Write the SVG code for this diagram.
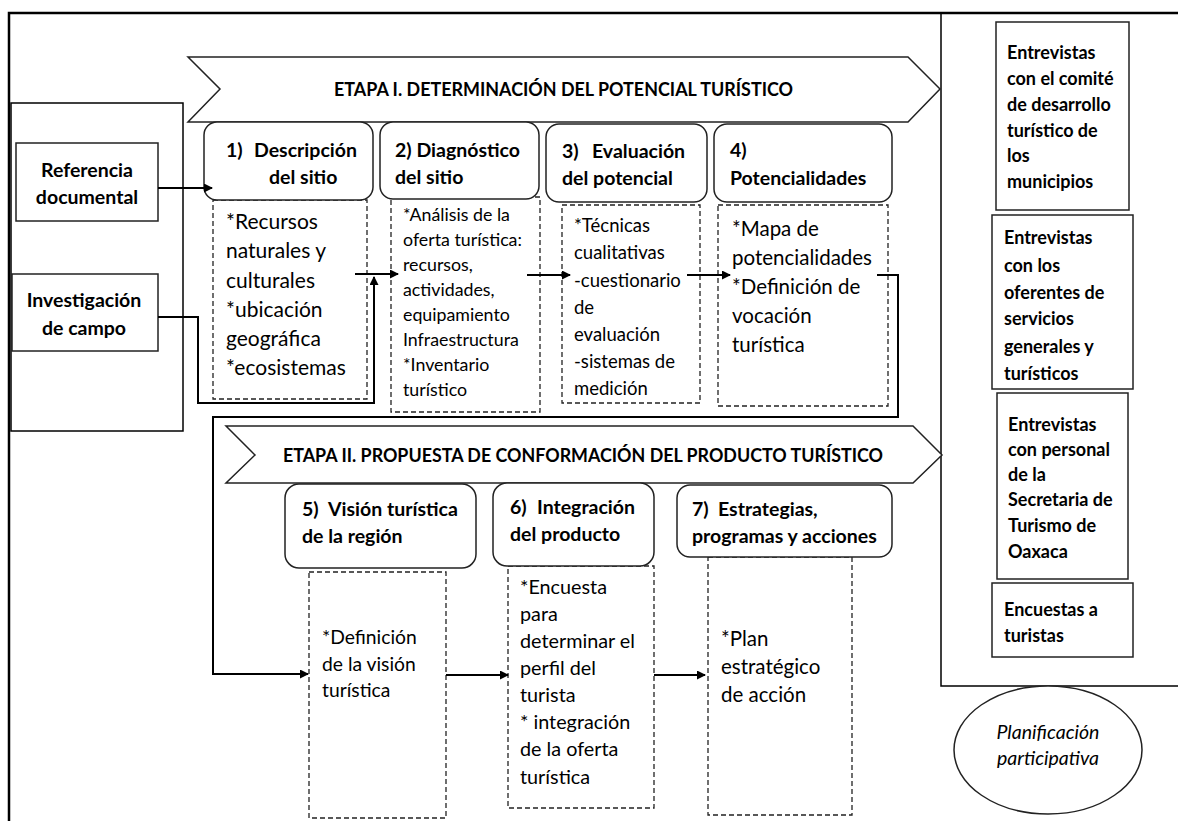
<svg xmlns="http://www.w3.org/2000/svg" width="1178" height="821" viewBox="0 0 1178 821">
<style>
  text { font-family: Lato, "Liberation Sans", sans-serif; fill: #000; }
  .hd { font-size: 19.5px; font-weight: bold; }
  .bd { font-size: 20.5px; }
  .bd2 { font-size: 17.8px; }
  .rp { font-size: 18px; font-weight: bold; }
  .bn { font-size: 18.5px; font-weight: bold; }
  .hdbox { fill: #fff; stroke: #222; stroke-width: 1.5; }
  .dash { fill: #fff; stroke: #222; stroke-width: 1.3; stroke-dasharray: 5 3; }
  .plain { fill: #fff; stroke: #222; stroke-width: 1.5; }
  .conn { fill: none; stroke: #000; stroke-width: 2; }
  .frame { fill: none; stroke: #000; }
</style>
<defs>
  <marker id="arr" markerUnits="userSpaceOnUse" markerWidth="9" markerHeight="9" refX="8" refY="4.5" orient="auto">
    <path d="M0,0 L9,4.5 L0,9 z" fill="#000"/>
  </marker>
</defs>
<rect width="1178" height="821" fill="#fff"/>

<g id="frame">
  <path class="frame" stroke-width="2.5" d="M9,821 V13 H1178"/>
  <path class="frame" stroke-width="1.5" d="M941,13 V686 H1178"/>
  <rect class="frame" stroke-width="1.5" x="11" y="103" width="172" height="328"/>
</g>

<g id="banner1">
  <polygon class="plain" points="188,57 908,57 940,89 908,122 188,122 220,89"/>
  <text class="bn" x="334" y="96" textLength="459" lengthAdjust="spacingAndGlyphs">ETAPA I. DETERMINACIÓN DEL POTENCIAL TURÍSTICO</text>
</g>
<g id="banner2">
  <polygon class="plain" points="226,426 913,426 942,455 913,483 226,483 255,455"/>
  <text class="bn" x="283" y="462" textLength="600" lengthAdjust="spacingAndGlyphs">ETAPA II. PROPUESTA DE CONFORMACIÓN DEL PRODUCTO TURÍSTICO</text>
</g>

<g id="ref-doc">
  <rect class="plain" x="16" y="143" width="142" height="78"/>
  <text class="hd" text-anchor="middle"><tspan x="87" y="177">Referencia</tspan><tspan x="87" y="204">documental</tspan></text>
</g>
<g id="inv-campo">
  <rect class="plain" x="12" y="274" width="146" height="77"/>
  <text class="hd" text-anchor="middle"><tspan x="84" y="307">Investigación</tspan><tspan x="84" y="335">de campo</tspan></text>
</g>

<g id="node1">
  <rect class="dash" x="213" y="200" width="154" height="199"/>
  <rect class="hdbox" x="204" y="122" width="169" height="78" rx="13"/>
  <text class="hd"><tspan x="226" y="157">1)</tspan><tspan x="254" y="157">Descripción</tspan><tspan x="269" y="184">del sitio</tspan></text>
  <text class="bd" style="font-size:21px"><tspan x="226" y="229">*Recursos</tspan><tspan x="226" y="258">naturales y</tspan><tspan x="226" y="288">culturales</tspan><tspan x="226" y="317">*ubicación</tspan><tspan x="226" y="346">geográfica</tspan><tspan x="226" y="375">*ecosistemas</tspan></text>
</g>
<g id="node2">
  <rect class="dash" x="391" y="197" width="149" height="215"/>
  <rect class="hdbox" x="380" y="122" width="159" height="77" rx="13"/>
  <text class="hd"><tspan x="395" y="157">2) Diagnóstico</tspan><tspan x="395" y="184">del sitio</tspan></text>
  <text class="bd2"><tspan x="403" y="221">*Análisis de la</tspan><tspan x="403" y="246">oferta turística:</tspan><tspan x="403" y="271">recursos,</tspan><tspan x="403" y="296">actividades,</tspan><tspan x="403" y="321">equipamiento</tspan><tspan x="403" y="346">Infraestructura</tspan><tspan x="403" y="371">*Inventario</tspan><tspan x="403" y="396">turístico</tspan></text>
</g>
<g id="node3">
  <rect class="dash" x="562" y="205" width="138" height="198"/>
  <rect class="hdbox" x="546" y="124" width="161" height="78" rx="13"/>
  <text class="hd"><tspan x="562" y="158">3)</tspan><tspan x="592" y="158">Evaluación</tspan><tspan x="562" y="185">del potencial</tspan></text>
  <text class="bd" style="font-size:18.5px"><tspan x="574" y="232">*Técnicas</tspan><tspan x="574" y="259">cualitativas</tspan><tspan x="574" y="287">-cuestionario</tspan><tspan x="574" y="314">de</tspan><tspan x="574" y="341">evaluación</tspan><tspan x="574" y="368">-sistemas de</tspan><tspan x="574" y="395">medición</tspan></text>
</g>
<g id="node4">
  <rect class="dash" x="718" y="205" width="170" height="201"/>
  <rect class="hdbox" x="714" y="124" width="178" height="78" rx="13"/>
  <text class="hd"><tspan x="730" y="157">4)</tspan><tspan x="730" y="185">Potencialidades</tspan></text>
  <text class="bd"><tspan x="732" y="236">*Mapa de</tspan><tspan x="732" y="265">potencialidades</tspan><tspan x="732" y="294">*Definición de</tspan><tspan x="732" y="323">vocación</tspan><tspan x="732" y="352">turística</tspan></text>
</g>

<g id="node5">
  <rect class="dash" x="309" y="572" width="137" height="246"/>
  <rect class="hdbox" x="285" y="484" width="191" height="84" rx="14"/>
  <text class="hd"><tspan x="302" y="516">5)</tspan><tspan x="328" y="516">Visión turística</tspan><tspan x="302" y="543">de la región</tspan></text>
  <text class="bd" style="font-size:19.3px"><tspan x="322" y="644">*Definición</tspan><tspan x="322" y="671">de la visión</tspan><tspan x="322" y="697">turística</tspan></text>
</g>
<g id="node6">
  <rect class="dash" x="508" y="566" width="146" height="242"/>
  <rect class="hdbox" x="493" y="483" width="161" height="83" rx="14"/>
  <text class="hd"><tspan x="510" y="514">6)</tspan><tspan x="537" y="514">Integración</tspan><tspan x="510" y="541">del producto</tspan></text>
  <text class="bd" style="font-size:19.8px"><tspan x="520" y="594">*Encuesta</tspan><tspan x="520" y="621">para</tspan><tspan x="520" y="648">determinar el</tspan><tspan x="520" y="675">perfil del</tspan><tspan x="520" y="702">turista</tspan><tspan x="520" y="729">* integración</tspan><tspan x="520" y="756">de la oferta</tspan><tspan x="520" y="784">turística</tspan></text>
</g>
<g id="node7">
  <rect class="dash" x="708" y="557" width="144" height="258"/>
  <rect class="hdbox" x="677" y="485" width="215" height="72" rx="13"/>
  <text class="hd"><tspan x="692" y="516">7)</tspan><tspan x="718" y="516">Estrategias,</tspan><tspan x="692" y="543">programas y acciones</tspan></text>
  <text class="bd"><tspan x="721" y="646">*Plan</tspan><tspan x="721" y="674">estratégico</tspan><tspan x="721" y="702">de acción</tspan></text>
</g>

<g id="ent-comite">
  <rect class="plain" x="996" y="22" width="133" height="188"/>
  <text class="rp"><tspan x="1007" y="59">Entrevistas</tspan><tspan x="1007" y="85">con el comité</tspan><tspan x="1007" y="111">de desarrollo</tspan><tspan x="1007" y="137">turístico de</tspan><tspan x="1007" y="162">los</tspan><tspan x="1007" y="188">municipios</tspan></text>
</g>
<g id="ent-oferentes">
  <rect class="plain" x="992" y="215" width="141" height="174"/>
  <text class="rp"><tspan x="1004" y="244">Entrevistas</tspan><tspan x="1004" y="272">con los</tspan><tspan x="1004" y="299">oferentes de</tspan><tspan x="1004" y="325">servicios</tspan><tspan x="1004" y="353">generales y</tspan><tspan x="1004" y="380">turísticos</tspan></text>
</g>
<g id="ent-secretaria">
  <rect class="plain" x="997" y="393" width="131" height="186"/>
  <text class="rp"><tspan x="1008" y="431">Entrevistas</tspan><tspan x="1008" y="456">con personal</tspan><tspan x="1008" y="481">de la</tspan><tspan x="1008" y="506">Secretaria de</tspan><tspan x="1008" y="532">Turismo de</tspan><tspan x="1008" y="558">Oaxaca</tspan></text>
</g>
<g id="encuestas">
  <rect class="plain" x="992" y="583" width="141" height="74"/>
  <text class="rp"><tspan x="1004" y="616">Encuestas a</tspan><tspan x="1004" y="642">turistas</tspan></text>
</g>
<g id="planificacion">
  <ellipse cx="1048" cy="750" rx="94" ry="64" fill="#fff" stroke="#222" stroke-width="1.5"/>
  <text font-size="19.5" font-style="italic" text-anchor="middle"><tspan x="1048" y="739">Planificación</tspan><tspan x="1048" y="765">participativa</tspan></text>
</g>

<g id="connectors">
  <path class="conn" d="M158,188 H212" marker-end="url(#arr)"/>
  <path class="conn" d="M158,317 H198 V403 H374 V277" marker-end="url(#arr)"/>
  <path class="conn" d="M355,274 H398" marker-end="url(#arr)"/>
  <path class="conn" d="M527,275 H570" marker-end="url(#arr)"/>
  <path class="conn" d="M687,275 H730" marker-end="url(#arr)"/>
  <path class="conn" d="M877,275 H898 V417 H213 V674 H308" marker-end="url(#arr)"/>
  <path class="conn" d="M446,675 H508" marker-end="url(#arr)"/>
  <path class="conn" d="M654,675 H705" marker-end="url(#arr)"/>
</g>
</svg>
